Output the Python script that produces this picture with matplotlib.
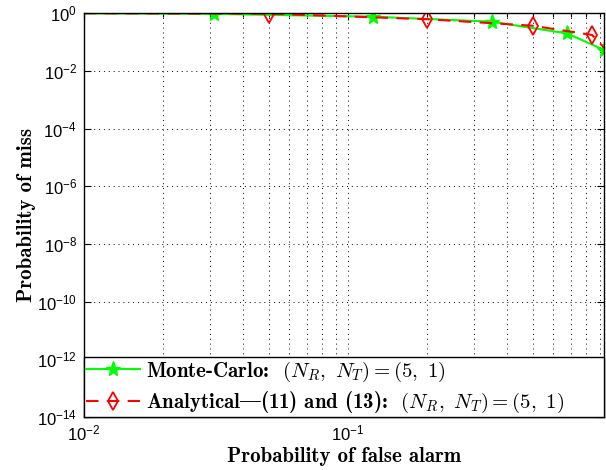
import matplotlib
matplotlib.use("Agg")
import matplotlib.pyplot as plt
from matplotlib.font_manager import FontProperties
from matplotlib.ticker import LogLocator, NullFormatter

# values
mc_pfa = [0.01, 0.031, 0.124, 0.35, 0.676, 0.935]
mc_pmiss = [1.0, 0.95, 0.76, 0.51, 0.20, 0.053]

an_pfa = [0.01, 0.05, 0.2, 0.5, 0.84, 0.935]
an_pmiss = [1.0, 0.97, 0.62, 0.37, 0.177, 0.063]

y_ticks = [1e0, 1e-2, 1e-4, 1e-6, 1e-8, 1e-10, 1e-12, 1e-14]

plt.rcParams['font.family'] = ['Liberation Sans', 'DejaVu Sans']
plt.rcParams['mathtext.fontset'] = 'custom'
plt.rcParams['mathtext.rm'] = 'Liberation Sans'
plt.rcParams['mathtext.it'] = 'Liberation Sans:italic'
plt.rcParams['mathtext.bf'] = 'Liberation Sans:bold'

fig = plt.figure(figsize=(6.06, 4.70), dpi=100)
ax = fig.add_axes([0.1386, 0.1128, 0.8586, 0.859])

ax.plot(mc_pfa, mc_pmiss, color=(0, 1, 0), lw=1.5, marker='*', ms=11,
        markevery=[1, 2, 3, 4, 5],
        label=r'Monte-Carlo:  $(N_R,\ N_T) = (5,\ 1)$')
# in cmb10 the '|' slot holds the em dash (TeX OT1 layout)
ax.plot(an_pfa, an_pmiss, color='red', lw=1.5, ls=(0, (6, 4)), marker='d',
        ms=9, mfc='none', mec='red', mew=1.3, markevery=[1, 2, 3, 4],
        label='Analytical|(11) and (13):  $(N_R,\ N_T) = (5,\ 1)$')

ax.set_xscale('log')
ax.set_yscale('log')
ax.set_xlim(0.01, 0.935)
ax.set_ylim(1e-14, 1)
ax.set_yticks(y_ticks)
ax.yaxis.set_minor_locator(LogLocator(base=10, subs=[]))
ax.xaxis.set_minor_locator(LogLocator(base=10, subs=[2, 3, 4, 5, 6, 7, 8, 9]))
ax.xaxis.set_minor_formatter(NullFormatter())

ax.grid(True, which='major', axis='both', color='black', ls=(0, (1, 4)), lw=0.7)
ax.grid(True, which='minor', axis='x', color='black', ls=(0, (1, 4)), lw=0.7)

ax.tick_params(which='both', direction='in', top=True, right=True,
               labelsize=12, width=0.8)
ax.tick_params(which='major', length=5, pad=5)
ax.tick_params(which='minor', length=3)
for s in ax.spines.values():
    s.set_linewidth(1.0)

lab_font = FontProperties(family=['cmb10', 'DejaVu Serif'], size=15)
ax.set_xlabel('Probability of false alarm', fontproperties=lab_font, labelpad=2)
ax.set_ylabel('Probability of miss', fontproperties=lab_font, labelpad=1)

leg_font = FontProperties(family=['cmb10', 'DejaVu Serif'], size=15,
                          math_fontfamily='cm')
leg = ax.legend(loc='lower left', bbox_to_anchor=(0, 0, 1, 0.149),
                mode='expand', prop=leg_font, fancybox=False, framealpha=1,
                edgecolor='black', handlelength=2.6, handletextpad=0.3,
                borderaxespad=0, labelspacing=0.3, borderpad=0.1)
leg.get_frame().set_linewidth(1.0)

fig.savefig('out.png', dpi=100)
